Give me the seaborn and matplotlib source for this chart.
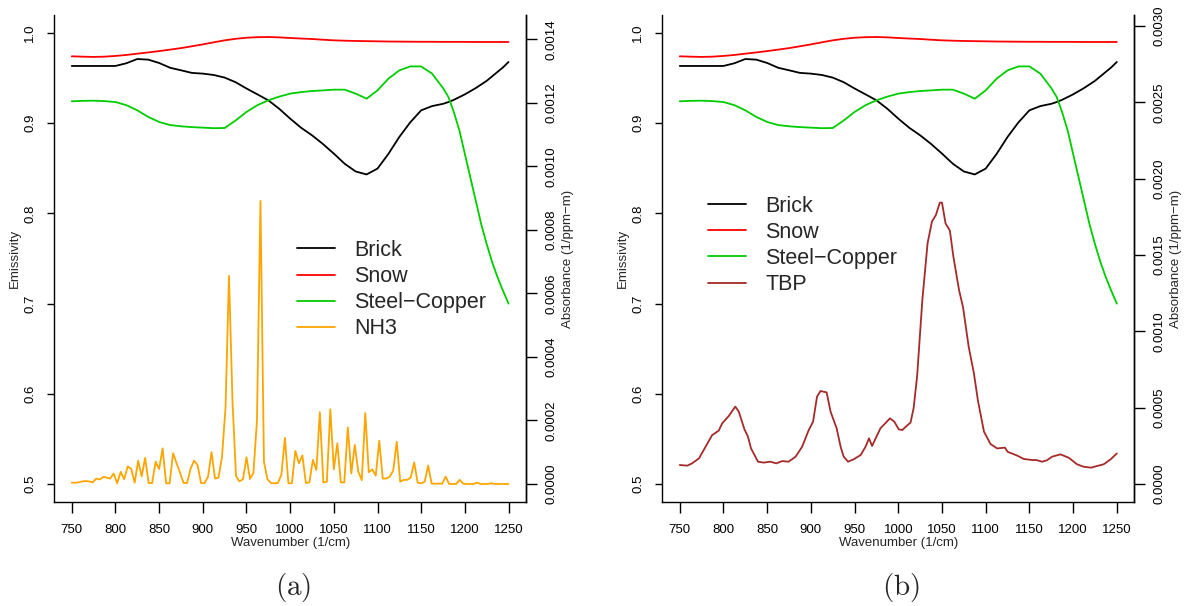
import numpy as np
import pandas as pd
import matplotlib
matplotlib.use("Agg")
import matplotlib.pyplot as plt
import seaborn as sns
from matplotlib.lines import Line2D

sns.set_theme(style="white", rc={"axes.edgecolor": "black", "xtick.color": "black",
                                 "ytick.color": "black", "axes.linewidth": 1.0})
plt.rcParams['font.family'] = ['Liberation Sans', 'DejaVu Sans']
plt.rcParams['mathtext.fontset'] = 'cm'

# ---------------- data ----------------
wn_emis = [750, 762.5, 775, 787.5, 800, 812.5, 825, 837.5, 850, 862.5, 875, 887.5, 900,
           912.5, 925, 937.5, 950, 962.5, 975, 987.5, 1000, 1012.5, 1025, 1037.5, 1050,
           1062.5, 1075, 1087.5, 1100, 1112.5, 1125, 1137.5, 1150, 1162.5, 1175, 1181.25,
           1187.5, 1193.75, 1200, 1206.25, 1212.5, 1218.75, 1225, 1231.25, 1237.5,
           1243.75, 1250]
brick = [0.9635, 0.9635, 0.9635, 0.9635, 0.9635, 0.9665, 0.9712, 0.9705, 0.9668, 0.9615,
         0.9587, 0.9558, 0.9550, 0.9535, 0.9506, 0.9455, 0.9385, 0.9320, 0.9254, 0.9160,
         0.9051, 0.8950, 0.8866, 0.8770, 0.8663, 0.8550, 0.8465, 0.8432, 0.8497, 0.8660,
         0.8848, 0.9010, 0.9143, 0.9190, 0.9215, 0.9235, 0.9260, 0.9290, 0.9320, 0.9355,
         0.9390, 0.9430, 0.9470, 0.9520, 0.9570, 0.9620, 0.9679]
snow = [0.9742, 0.9738, 0.9735, 0.9738, 0.9746, 0.9757, 0.9771, 0.9785, 0.9800, 0.9816,
        0.9833, 0.9853, 0.9874, 0.9897, 0.9919, 0.9936, 0.9948, 0.9954, 0.9956, 0.9952,
        0.9945, 0.9939, 0.9934, 0.9926, 0.9919, 0.9915, 0.9912, 0.9910, 0.9908, 0.9906,
        0.9905, 0.9904, 0.9903, 0.9903, 0.9902, 0.9902, 0.9902, 0.9902, 0.9902, 0.9901,
        0.9901, 0.9901, 0.9901, 0.9901, 0.9901, 0.9901, 0.9901]
steel_copper = [0.9243, 0.9248, 0.9250, 0.9245, 0.9235, 0.9200, 0.9143, 0.9070, 0.9014,
                0.8980, 0.8966, 0.8957, 0.8951, 0.8945, 0.8947, 0.9030, 0.9125, 0.9200,
                0.9254, 0.9295, 0.9328, 0.9345, 0.9357, 0.9364, 0.9372, 0.9372, 0.9328,
                0.9272, 0.9364, 0.9494, 0.9586, 0.9630, 0.9630, 0.9550, 0.9390, 0.9290,
                0.9120, 0.8920, 0.8660, 0.8400, 0.8140, 0.7880, 0.7660, 0.7460, 0.7290,
                0.7140, 0.7000]

# NH3 absorbance, in units of 1e-4 (1/ppm-m), sampled every 4 cm^-1 from 750 to 1250
wn_nh3 = list(range(750, 1251, 4))
nh3_1e4 = [0.04, 0.04, 0.05, 0.08, 0.09, 0.08, 0.05, 0.17, 0.14, 0.22, 0.20, 0.17, 0.33,
           0.02, 0.38, 0.15, 0.55, 0.48, 0.04, 0.73, 0.24, 0.82, 0.03, 0.03, 0.70, 0.47,
           1.12, 0.02, 0.02, 0.97, 0.65, 0.35, 0.03, 0.03, 0.48, 0.73, 0.60, 0.03, 0.03,
           0.23, 1.00, 0.17, 0.20, 0.86, 2.40, 6.55, 2.60, 0.25, 0.08, 0.15, 0.84, 0.16,
           0.35, 2.00, 8.91, 0.70, 0.15, 0.03, 0.02, 0.03, 0.30, 1.45, 0.02, 0.02, 1.04,
           0.65, 0.90, 0.03, 0.05, 0.76, 0.44, 2.26, 0.05, 0.07, 2.35, 0.46, 1.28, 0.05,
           0.05, 1.78, 0.33, 1.23, 0.39, 0.12, 2.23, 0.37, 0.46, 0.26, 1.36, 0.17, 0.17,
           0.23, 0.42, 1.33, 0.07, 0.13, 0.13, 0.20, 0.68, 0.04, 0.02, 0.07, 0.58, 0.01,
           0.01, 0.01, 0.01, 0.23, 0.00, 0.00, 0.00, 0.13, 0.01, 0.00, 0.00, 0.00, 0.04,
           0.00, 0.00, 0.00, 0.02, 0.00, 0.00, 0.00, 0.00, 0.00]

# TBP absorbance, in units of 1e-4 (1/ppm-m)
wn_tbp = [750, 758.5, 764, 772, 779.5, 787, 794.5, 798.5, 806, 813.5, 817.5, 824, 828,
          831.5, 839.5, 846, 853.5, 860.5, 867, 874.5, 882.5, 890, 897.5, 902.5, 907, 911,
          918, 922.5, 929.5, 934, 937.5, 942.5, 949, 957, 962.5, 966.5, 970, 979.5, 990.5,
          995.5, 1000.5, 1004.5, 1008.5, 1014, 1017.5, 1021.5, 1027.5, 1033.5, 1038.5,
          1043, 1047.5, 1050, 1054, 1059, 1063, 1069.5, 1074, 1080.5, 1086.5, 1091, 1098,
          1105.5, 1113, 1122, 1125, 1136, 1143.5, 1153, 1158, 1164.5, 1170, 1176, 1185.5,
          1195, 1204.5, 1212, 1220.5, 1227.5, 1235, 1243, 1250]
tbp_1e4 = [1.245, 1.20, 1.35, 1.68, 2.44, 3.20, 3.49, 3.97, 4.45, 5.07, 4.74, 3.58, 3.10,
           2.33, 1.46, 1.40, 1.46, 1.35, 1.50, 1.46, 1.79, 2.44, 3.53, 4.08, 5.72, 6.09,
           6.00, 4.74, 3.64, 2.44, 1.79, 1.46, 1.62, 1.90, 2.44, 2.99, 2.49, 3.64, 4.30,
           4.08, 3.58, 3.53, 3.75, 4.02, 4.96, 7.03, 12.05, 15.77, 17.19, 17.62, 18.43,
           18.43, 17.08, 16.60, 14.90, 12.70, 11.60, 9.00, 7.25, 5.50, 3.43, 2.62, 2.33,
           2.38, 2.11, 1.86, 1.64, 1.57, 1.57, 1.46, 1.55, 1.79, 1.94, 1.72, 1.29, 1.13,
           1.07, 1.18, 1.29, 1.62, 2.00]

x_ticks = [750, 800, 850, 900, 950, 1000, 1050, 1100, 1150, 1200, 1250]
emis_ticks = [0.5, 0.6, 0.7, 0.8, 0.9, 1.0]
abs_ticks_a = [0.0, 0.0002, 0.0004, 0.0006, 0.0008, 0.0010, 0.0012, 0.0014]
abs_ticks_b = [0.0, 0.0005, 0.0010, 0.0015, 0.0020, 0.0025, 0.0030]

emis_names = ["Brick", "Snow", "Steel\u2212Copper"]
emis_colors = ["black", "#FF0000", "#00CD00"]

emis_df = pd.DataFrame({"wn": wn_emis, "Brick": brick, "Snow": snow,
                        "Steel\u2212Copper": steel_copper})
nh3_df = pd.DataFrame({"wn": wn_nh3, "abs": np.array(nh3_1e4) * 1e-4})
tbp_df = pd.DataFrame({"wn": wn_tbp, "abs": np.array(tbp_1e4) * 1e-4})

# ---------------- layout ----------------
W, H = 1196, 606
fig = plt.figure(figsize=(W / 100, H / 100), dpi=100)
fig.patch.set_facecolor("white")


def rect(l, r, t, b):
    return [l / W, 1 - b / H, (r - l) / W, (b - t) / H]


LW = 1.3
TICK_FS = 9.5


def make_panel(box, gas_df, gas_name, gas_color, ylim2, ticks2, leg_anchor, caption):
    ax = fig.add_axes(rect(*box))
    for name, col in zip(emis_names, emis_colors):
        sns.lineplot(data=emis_df, x="wn", y=name, ax=ax, color=col, linewidth=LW,
                     estimator=None, sort=False, legend=False)
    ax.set_xlim(730, 1270)
    ax.set_ylim(0.48, 1.02)
    ax.set_xticks(x_ticks)
    ax.set_xticklabels([str(t) for t in x_ticks])
    ax.set_yticks(emis_ticks)
    ax.set_yticklabels([f"{t:.1f}" for t in emis_ticks])
    ax.set_xlabel("")
    ax.set_ylabel("")
    ax.grid(False)
    ax.spines["top"].set_visible(False)
    for s in ["left", "bottom", "right"]:
        ax.spines[s].set_visible(True)
        ax.spines[s].set_color("black")
        ax.spines[s].set_linewidth(1.0)
    ax.tick_params(axis="x", direction="out", length=8, width=1, pad=7.5,
                   labelsize=TICK_FS, bottom=True)
    ax.tick_params(axis="y", direction="out", length=5, width=1, pad=8.0,
                   labelsize=TICK_FS, left=True, labelrotation=90)
    for lab in ax.get_yticklabels():
        lab.set_va("center")

    ax2 = ax.twinx()
    sns.lineplot(data=gas_df, x="wn", y="abs", ax=ax2, color=gas_color, linewidth=LW,
                 estimator=None, sort=False, legend=False)
    ax2.set_xlim(730, 1270)
    ax2.set_ylim(*ylim2)
    ax2.set_yticks(ticks2)
    ax2.set_yticklabels([f"{t:.4f}" for t in ticks2])
    ax2.set_ylabel("")
    ax2.set_xlabel("")
    ax2.grid(False)
    for s in ["top", "left", "bottom"]:
        ax2.spines[s].set_visible(False)
    ax2.spines["right"].set_color("black")
    ax2.spines["right"].set_linewidth(1.0)
    ax2.tick_params(axis="y", direction="out", length=8, width=1, pad=6.0,
                    labelsize=TICK_FS, right=True, labelrotation=90)
    for lab in ax2.get_yticklabels():
        lab.set_va("center")

    handles = [Line2D([], [], color=c, linewidth=LW) for c in emis_colors + [gas_color]]
    labels = emis_names + [gas_name]
    ax2.legend(handles, labels, loc="upper left", bbox_to_anchor=leg_anchor,
               frameon=False, fontsize=15.5, handlelength=1.75, handletextpad=0.9,
               labelspacing=0.24, borderpad=0, borderaxespad=0)

    l, r, t, b = box
    cx = (l + r) / 2
    cy = (t + b) / 2
    fig.text(cx / W, 1 - 543 / H, "Wavenumber (1/cm)", ha="center", va="center",
             fontsize=TICK_FS)
    fig.text((l - 39.5) / W, 1 - cy / H, "Emissivity", ha="center", va="center",
             rotation=90, fontsize=TICK_FS)
    fig.text((r + 41.5) / W, 1 - cy / H, "Absorbance (1/ppm\u2212m)", ha="center",
             va="center", rotation=90, fontsize=TICK_FS)
    fig.text((cx + 3) / W, 1 - 588 / H, caption, ha="center", va="center", fontsize=21)
    return ax, ax2


make_panel((54.3, 526.0, 15, 502), nh3_df, "NH3", "#FFA500",
           (-5.68e-5, 0.0014765), abs_ticks_a, (0.5145, 0.538), r"$\mathrm{(a)}$")
make_panel((662.3, 1134.3, 15, 502), tbp_df, "TBP", "#A52A2A",
           (-1.18e-4, 0.003072), abs_ticks_b, (0.097, 0.629), r"$\mathrm{(b)}$")

fig.savefig("out.png", dpi=100, facecolor="white")
